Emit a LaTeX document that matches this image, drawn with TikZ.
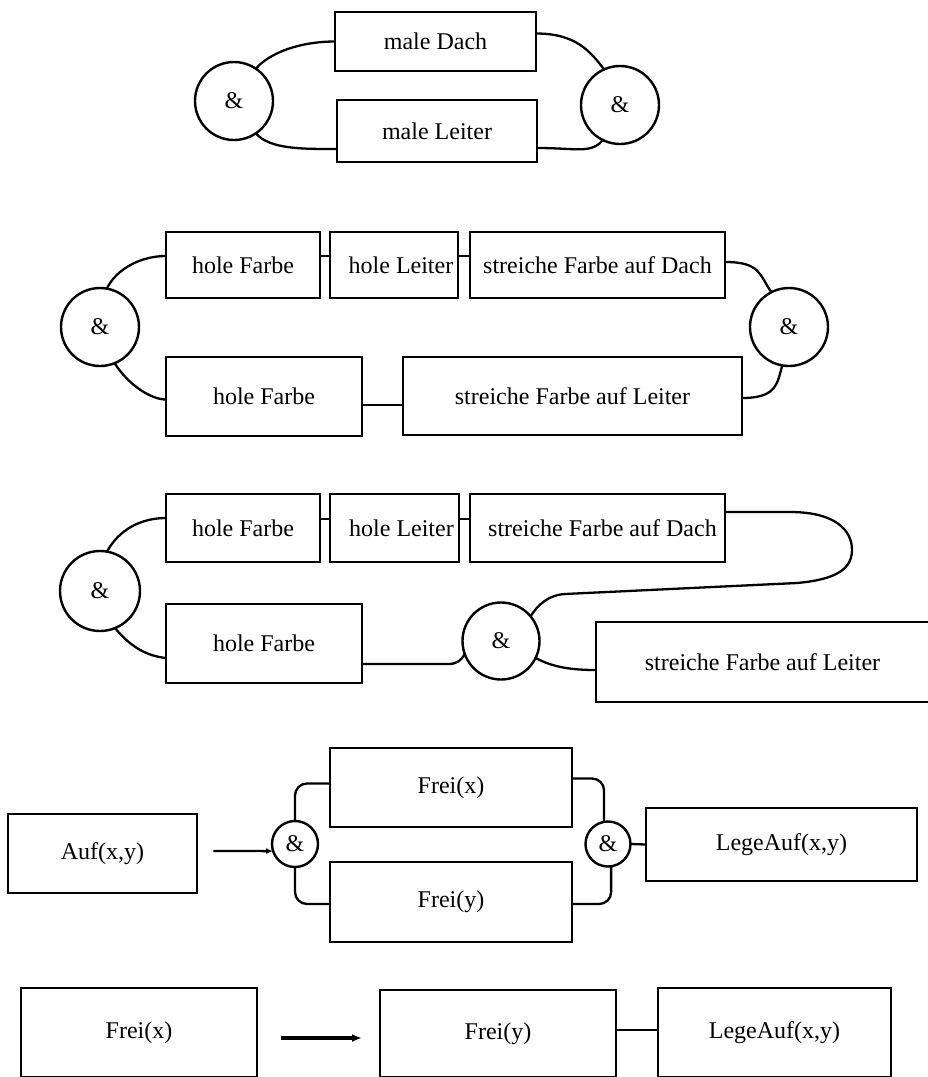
\documentclass[tikz,border=0pt]{standalone}
\usepackage{fontspec}
\setmainfont{Liberation Serif}
\usetikzlibrary{arrows.meta}
\begin{document}
\begin{tikzpicture}[x=1pt,y=-1pt,
  box/.style={draw, line width=2.7pt, inner sep=0pt, outer sep=0pt,
              font=\fontsize{24}{28}\selectfont},
  andnode/.style={draw, circle, line width=2.4pt, inner sep=0pt, outer sep=0pt,
              font=\fontsize{24}{28}\selectfont},
  link/.style={line width=2.3pt, line cap=round}]
\useasboundingbox (0,0) rectangle (927,1077);

% --- male Dach & male Leiter in parallel
\node[andnode, minimum size=78] (c1) at (234,101) {\&};
\node[andnode, minimum size=78] (c2) at (620,105) {\&};
\node[box, minimum width=201, minimum height=59] (dach) at (435.5,41.5) {male Dach};
\node[box, minimum width=200, minimum height=62] (leiter) at (437,131) {male Leiter};
\draw[link] (c1.56) .. controls +(14,-16) and +(-35,0) .. (dach.west);
\draw[link] (c1.-56) .. controls +(14,16) and +(-35,0) .. ([yshift=-18pt]leiter.west);
\draw[link] ([yshift=8pt]dach.east) .. controls +(40,0) and +(-14,-18) .. (c2.114);
\draw[link] ([yshift=-17pt]leiter.east) .. controls +(40,0) and +(-12,14) .. (c2.-116);

% --- refined plan, two parallel branches
\node[andnode, minimum size=78] (c3) at (100,327) {\&};
\node[andnode, minimum size=78] (c4) at (789,327) {\&};
\node[box, minimum width=154, minimum height=66] (hf1) at (243,265) {hole Farbe};
\node[box, minimum width=128, minimum height=66] (hl1) at (394,265) {\hspace*{14pt}hole Leiter};
\node[box, minimum width=255, minimum height=66] (sd1) at (597.5,265) {streiche Farbe auf Dach};
\node[box, minimum width=196, minimum height=79] (hf2) at (264,396.5) {hole Farbe};
\node[box, minimum width=339, minimum height=78] (sl1) at (572.5,396) {streiche Farbe auf Leiter};
\draw[link] (c3.80) .. controls +(10,-20) and +(-25,0) .. ([yshift=9pt]hf1.west);
\draw[link] (c3.-68) .. controls +(14,22) and +(-15,0) .. ([yshift=-3pt]hf2.west);
\draw[link] ([yshift=9pt]hf1.east) -- ([yshift=9pt]hl1.west);
\draw[link] ([yshift=9pt]hl1.east) -- ([yshift=9pt]sd1.west);
\draw[link] ([yshift=-8.5pt]hf2.east) -- ([yshift=-9pt]sl1.west);
\draw[link] ([yshift=3pt]sd1.east) .. controls +(35,0) and +(-12,-18) .. (c4.117);
\draw[link] ([yshift=-2pt]sl1.east) .. controls +(35,0) and +(-5,18) .. (c4.-100);

% --- reordered plan, join before painting the ladder
\node[andnode, minimum size=80] (c5) at (100,591) {\&};
\node[andnode, minimum size=77] (c6) at (501,641) {\&};
\node[box, minimum width=154, minimum height=68] (hf3) at (243,528) {hole Farbe};
\node[box, minimum width=129, minimum height=68] (hl3) at (394.5,528) {\hspace*{14pt}hole Leiter};
\node[box, minimum width=255, minimum height=68] (sd3) at (597.5,528) {\hspace*{10pt}streiche Farbe auf Dach};
\node[box, minimum width=196, minimum height=79] (hf4) at (264,643.5) {hole Farbe};
\node[box, minimum width=333, minimum height=80] (sl3) at (762.5,662) {streiche Farbe auf Leiter};
\draw[link] (c5.80) .. controls +(12,-22) and +(-25,0) .. ([yshift=10pt]hf3.west);
\draw[link] (c5.-68) .. controls +(15,18) and +(-20,-2) .. ([yshift=-14.5pt]hf4.west);
\draw[link] ([yshift=9pt]hf3.east) -- ([yshift=9pt]hl3.west);
\draw[link] ([yshift=9pt]hl3.east) -- ([yshift=9pt]sd3.west);
\draw[link] ([yshift=16pt]sd3.east) -- (790,512)
   .. controls (835,512) and (852,530) .. (852,550)
   .. controls (852,572) and (830,580) .. (797,583)
   -- (565,594) .. controls (548,595) and (538,605) .. (c6.40);
\draw[link] ([yshift=-20.5pt]hf4.east) -- (448,664)
   .. controls (458,664) and (461,660) .. (c6.-160);
\draw[link] (c6.-26) .. controls +(18,10) and +(-22,0) .. ([yshift=-8pt]sl3.west);

% --- rule: Auf(x,y) leads to Frei(x) & Frei(y), then LegeAuf(x,y)
\node[andnode, minimum size=46] (c7) at (295,844) {\&};
\node[andnode, minimum size=45] (c8) at (608,844) {\&};
\node[box, minimum width=189, minimum height=79] (auf) at (102.5,853.5) {Auf(x,y)};
\node[box, minimum width=242, minimum height=79] (fx4) at (451,787.5) {Frei(x)};
\node[box, minimum width=242, minimum height=80] (fy4) at (451,902) {Frei(y)};
\node[box, minimum width=271, minimum height=73] (lege4) at (781.5,844.5) {LegeAuf(x,y)};
\coordinate (a0) at (214,851);
\draw[link, -{Latex[length=7pt,width=6pt]}] (a0) -- (c7.198);
\draw[link, rounded corners=12pt] (c7.north) |- ([yshift=4pt]fx4.west);
\draw[link, rounded corners=12pt] (c7.south) |- ([yshift=-2pt]fy4.west);
\draw[link, rounded corners=12pt] ([yshift=9pt]fx4.east) -| (c8.100);
\draw[link, rounded corners=12pt] ([yshift=-2pt]fy4.east) -| (c8.-82);
\draw[link] (c8.east) -- (lege4.west);

% --- sequential form
\node[box, minimum width=236, minimum height=89] (fx5) at (139,1032.5) {\raisebox{-5pt}{Frei(x)}};
\node[box, minimum width=236, minimum height=87] (fy5) at (498,1033.5) {\raisebox{-6pt}{Frei(y)}};
\node[box, minimum width=233, minimum height=89] (lege5) at (774.5,1032.5) {\raisebox{-7pt}{LegeAuf(x,y)}};
\coordinate (b0) at (281,1038);
\coordinate (b1) at (362,1038);
\draw[line width=3.2pt, -{Latex[length=10pt,width=8pt]}] (b0) -- (b1);
\draw[link] ([yshift=3.5pt]fy5.east) -- ([yshift=2.5pt]lege5.west);
\end{tikzpicture}
\end{document}
